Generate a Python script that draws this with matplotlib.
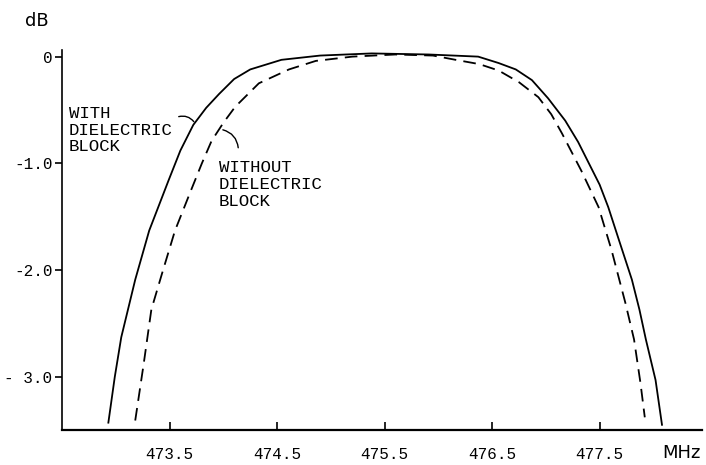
import numpy as np
import matplotlib.pyplot as plt

plt.rcParams['font.family'] = ['Liberation Mono', 'DejaVu Sans']

# response curves (MHz, dB)
f_with = [472.93, 472.99, 473.05, 473.18, 473.31, 473.49, 473.60, 473.72, 473.84, 473.96,
          474.10, 474.25, 474.54, 474.90, 475.38, 475.91, 476.37, 476.56, 476.72, 476.87,
          477.02, 477.18, 477.30, 477.40, 477.50, 477.58, 477.68, 477.80, 477.87, 477.93,
          478.02, 478.08]
db_with = [-3.43, -3.00, -2.63, -2.09, -1.63, -1.16, -0.88, -0.64, -0.48, -0.35,
           -0.21, -0.12, -0.03, 0.01, 0.03, 0.02, 0.00, -0.06, -0.12, -0.22,
           -0.39, -0.60, -0.80, -1.00, -1.20, -1.41, -1.72, -2.09, -2.37, -2.65,
           -3.03, -3.45]

f_without = [473.18, 473.26, 473.33, 473.43, 473.55, 473.70, 473.80, 473.89, 474.00, 474.11,
             474.33, 474.61, 474.86, 475.20, 475.60, 475.95, 476.16, 476.38, 476.56, 476.75,
             476.93, 477.05, 477.15, 477.33, 477.49, 477.61, 477.74, 477.82, 477.88, 477.92]
db_without = [-3.41, -2.87, -2.37, -2.03, -1.63, -1.25, -1.00, -0.79, -0.62, -0.47,
              -0.25, -0.12, -0.04, 0.00, 0.02, 0.01, -0.03, -0.07, -0.13, -0.24,
              -0.38, -0.54, -0.72, -1.07, -1.41, -1.81, -2.31, -2.65, -3.06, -3.38]

xticks = [473.5, 474.5, 475.5, 476.5, 477.5]
xticklabels = ["473.5", "474.5", "475.5", "476.5", "477.5"]
yticks = [0, -1, -2, -3]
yticklabels = ["0", "-1.0", "-2.0", "- 3.0"]

fig = plt.figure(figsize=(7.06, 4.65), dpi=100)
ax = fig.add_axes([0.088, 0.075, 0.906, 0.817])

ax.plot(f_with, db_with, "-k", lw=1.3)
ax.plot(f_without, db_without, "--k", lw=1.3, dashes=(7, 4))

ax.set_xlim(472.5, 478.45)
ax.set_ylim(-3.5, 0.06)
for s in ["top", "right"]:
    ax.spines[s].set_visible(False)
ax.spines["left"].set_linewidth(1.2)
ax.spines["bottom"].set_linewidth(1.6)

ax.set_xticks(xticks)
ax.set_xticklabels(xticklabels, fontsize=11.5)
ax.set_yticks(yticks)
ax.set_yticklabels(yticklabels, fontsize=11.5)
ax.tick_params(axis="x", direction="in", length=6, width=1.2, pad=12)
ax.tick_params(axis="y", direction="out", length=5, width=1.2, pad=2)

fig.text(0.052, 0.955, "dB", fontsize=13, ha="center", va="center",
         family="DejaVu Sans")
fig.text(0.965, 0.026, "MHz", fontsize=13, ha="center", va="center",
         family="DejaVu Sans")

ax.text(472.56, -0.46, "WITH\nDIELECTRIC\nBLOCK", fontsize=12.5, va="top", ha="left",
        linespacing=1.15)
ax.text(473.96, -0.97, "WITHOUT\nDIELECTRIC\nBLOCK", fontsize=12.5, va="top", ha="left",
        linespacing=1.15)
ax.annotate("", xy=(473.74, -0.63), xytext=(473.56, -0.57),
            arrowprops=dict(arrowstyle="-", lw=1.0, connectionstyle="arc3,rad=-0.4"))
ax.annotate("", xy=(474.14, -0.88), xytext=(473.97, -0.68),
            arrowprops=dict(arrowstyle="-", lw=1.0, connectionstyle="arc3,rad=-0.4"))

fig.savefig("out.png", dpi=100)
